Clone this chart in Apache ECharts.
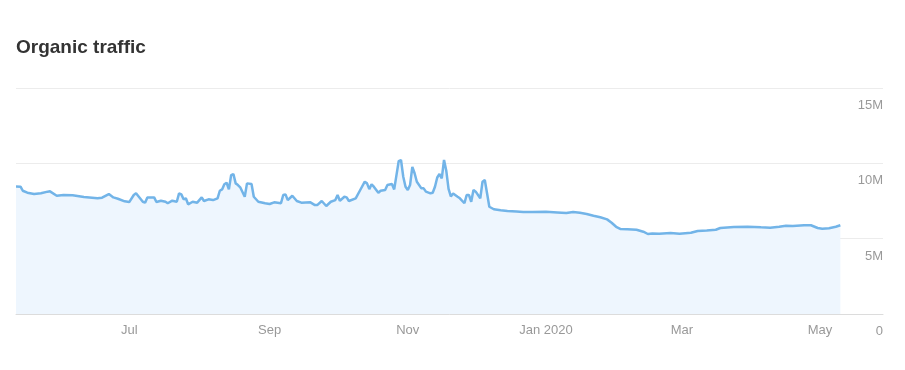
<!DOCTYPE html>
<html>
<head>
<meta charset="utf-8">
<script src="https://cdn.jsdelivr.net/npm/echarts@6/dist/echarts.min.js"></script>
<style>
html,body{margin:0;padding:0;background:#fff;}
#chart{width:905px;height:370px;}
</style>
</head>
<body>
<div id="chart"></div>
<script>
const titleText = 'Organic traffic';
const dates = [
'2019-05-12','2019-05-14','2019-05-15','2019-05-17','2019-05-20','2019-05-23','2019-05-26','2019-05-27','2019-05-30',
'2019-06-02','2019-06-06','2019-06-11','2019-06-17','2019-06-19','2019-06-22','2019-06-24','2019-06-26','2019-06-29',
'2019-07-01','2019-07-03','2019-07-04','2019-07-07','2019-07-08','2019-07-09','2019-07-12','2019-07-13','2019-07-15',
'2019-07-17','2019-07-18','2019-07-20','2019-07-22','2019-07-23','2019-07-24','2019-07-25','2019-07-26','2019-07-27',
'2019-07-29','2019-07-31','2019-08-02','2019-08-03','2019-08-05','2019-08-07','2019-08-09','2019-08-10','2019-08-11',
'2019-08-12','2019-08-13','2019-08-14','2019-08-15','2019-08-16','2019-08-17','2019-08-18','2019-08-19','2019-08-21',
'2019-08-22','2019-08-24','2019-08-25','2019-08-27','2019-08-30','2019-09-01','2019-09-03','2019-09-06','2019-09-07',
'2019-09-08','2019-09-09','2019-09-11','2019-09-13','2019-09-15','2019-09-19','2019-09-21','2019-09-22','2019-09-24',
'2019-09-26','2019-09-28','2019-09-30','2019-10-01','2019-10-02','2019-10-04','2019-10-05','2019-10-06','2019-10-09',
'2019-10-11','2019-10-13','2019-10-14','2019-10-15','2019-10-16','2019-10-17','2019-10-19','2019-10-20','2019-10-22',
'2019-10-23','2019-10-25','2019-10-26','2019-10-27','2019-10-28','2019-10-29','2019-10-30','2019-10-31','2019-11-01',
'2019-11-02','2019-11-03','2019-11-04','2019-11-05','2019-11-07','2019-11-08','2019-11-09','2019-11-11','2019-11-12',
'2019-11-13','2019-11-14','2019-11-15','2019-11-16','2019-11-17','2019-11-18','2019-11-19','2019-11-20','2019-11-21',
'2019-11-23','2019-11-24','2019-11-26','2019-11-27','2019-11-28','2019-11-29','2019-11-30','2019-12-01','2019-12-03',
'2019-12-04','2019-12-05','2019-12-06','2019-12-07','2019-12-09','2019-12-12','2019-12-15','2019-12-19','2019-12-22',
'2019-12-26','2020-01-01','2020-01-06','2020-01-10','2020-01-13','2020-01-16','2020-01-19','2020-01-22','2020-01-25',
'2020-01-28','2020-01-30','2020-02-01','2020-02-03','2020-02-06','2020-02-10','2020-02-13','2020-02-15','2020-02-17',
'2020-02-20','2020-02-25','2020-02-29','2020-03-05','2020-03-08','2020-03-12','2020-03-16','2020-03-18','2020-03-24',
'2020-03-30','2020-04-05','2020-04-09','2020-04-13','2020-04-16','2020-04-19','2020-04-24','2020-04-27','2020-04-30',
'2020-05-02','2020-05-05','2020-05-08','2020-05-10'
];
// organic traffic, millions
const traffic = [
8.46,8.45,8.18,8.05,7.96,8.01,8.12,8.14,7.85,
7.90,7.88,7.76,7.68,7.72,7.96,7.74,7.65,7.48,
7.43,7.90,8.01,7.45,7.39,7.74,7.74,7.43,7.52,
7.45,7.35,7.52,7.45,8.01,7.94,7.61,7.68,7.28,
7.45,7.39,7.74,7.50,7.61,7.56,7.68,8.18,8.27,
8.61,8.71,8.27,9.22,9.29,8.67,8.56,8.41,7.78,
8.67,8.63,7.78,7.45,7.35,7.30,7.41,7.35,7.90,
7.94,7.56,7.85,7.50,7.39,7.41,7.23,7.23,7.50,
7.17,7.45,7.56,7.90,7.52,7.78,7.74,7.50,7.68,
8.23,8.78,8.67,8.29,8.61,8.45,8.05,8.18,8.23,
8.56,8.63,8.27,9.22,10.15,10.22,9.11,8.45,8.23,
8.56,9.77,9.34,8.78,8.34,8.34,8.12,8.01,8.05,
8.45,9.06,9.29,9.00,10.22,9.50,8.30,7.80,8.00,
7.78,7.68,7.35,7.90,7.90,7.45,8.23,8.12,7.68,
8.78,8.89,8.01,7.12,6.95,6.88,6.83,6.80,6.77,
6.77,6.79,6.74,6.70,6.77,6.72,6.64,6.52,6.42,
6.28,6.06,5.79,5.64,5.62,5.59,5.46,5.31,5.35,
5.33,5.37,5.33,5.39,5.51,5.55,5.59,5.71,5.77,
5.79,5.75,5.73,5.79,5.86,5.84,5.89,5.89,5.71,
5.66,5.69,5.79,5.89
];
const xTickDates = ['2019-07-01','2019-09-01','2019-11-01','2020-01-01','2020-03-01','2020-05-01'];
const xMin = '2019-05-12';
const xMax = '2020-05-28T20:00:00';
const yTicks = [0, 5, 10, 15];
const monthNames = ['Jan','Feb','Mar','Apr','May','Jun','Jul','Aug','Sep','Oct','Nov','Dec'];

function toTs(s) {
  const m = s.match(/^(\d+)-(\d+)-(\d+)(?:T(\d+):(\d+):(\d+))?$/);
  return Date.UTC(+m[1], +m[2] - 1, +m[3], m[4] ? +m[4] : 0, m[5] ? +m[5] : 0, m[6] ? +m[6] : 0);
}
const seriesData = dates.map((d, i) => [toTs(d), traffic[i]]);
const tickTs = xTickDates.map(toTs);
const FONT = 'Liberation Sans, Arial, sans-serif';

const chart = echarts.init(document.getElementById('chart'), null, {renderer: 'canvas'});
chart.setOption({
  animation: false,
  backgroundColor: '#fff',
  textStyle: {fontFamily: FONT},
  title: {
    text: titleText,
    left: 11,
    top: 33,
    textStyle: {fontSize: 19, fontWeight: 'bold', color: '#333', fontFamily: FONT}
  },
  grid: {left: 16, right: 22, top: 88, bottom: 56, containLabel: false},
  xAxis: {
    type: 'value',
    min: toTs(xMin),
    max: toTs(xMax),
    axisLine: {show: true, lineStyle: {color: '#dcdcdc', width: 1}},
    axisTick: {show: true, inside: true, length: 7, lineStyle: {color: '#dcdcdc'}, customValues: tickTs},
    axisLabel: {
      color: '#999',
      fontSize: 13,
      margin: 10,
      customValues: tickTs,
      formatter: function (v) {
        const d = new Date(v);
        const m = d.getUTCMonth();
        return m === 0 ? monthNames[m] + ' ' + d.getUTCFullYear() : monthNames[m];
      }
    },
    splitLine: {show: false}
  },
  yAxis: {
    type: 'value',
    position: 'right',
    min: yTicks[0],
    max: yTicks[yTicks.length - 1],
    interval: 5,
    axisLine: {show: false},
    axisTick: {show: false},
    splitLine: {show: true, lineStyle: {color: '#ececec', width: 1}},
    axisLabel: {
      inside: true,
      margin: 0,
      color: '#999',
      fontSize: 13,
      verticalAlign: 'top',
      padding: [11, 0, 0, 0],
      formatter: v => v === 0 ? '0' : v + 'M'
    }
  },
  series: [{
    type: 'line',
    data: seriesData,
    showSymbol: false,
    symbol: 'none',
    smooth: false,
    lineStyle: {color: '#72b4e8', width: 2.5},
    areaStyle: {color: '#eef6fe', opacity: 1},
    z: 3
  }]
});
</script>
</body>
</html>
